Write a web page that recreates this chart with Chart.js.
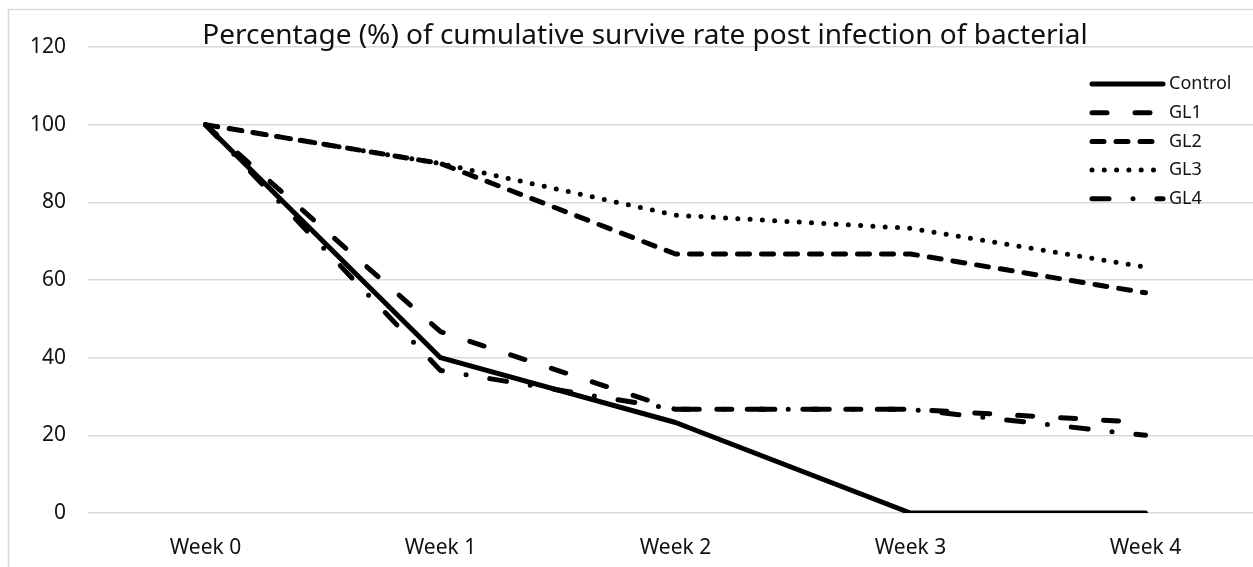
<!DOCTYPE html>
<html>
<head>
<meta charset="utf-8">
<script src="https://cdn.jsdelivr.net/npm/chart.js@4/dist/chart.umd.min.js"></script>
<style>
  html, body { margin: 0; padding: 0; background: #fff; overflow: hidden; }
  #chart { display: block; }
</style>
</head>
<body>
<canvas id="chart" width="1270" height="567"></canvas>
<script>
// dados
const weeks = ['Week 0', 'Week 1', 'Week 2', 'Week 3', 'Week 4'];
const control = [100, 40, 23.3, 0, 0];
const gl1 = [100, 46.7, 26.7, 26.7, 23.3];
const gl2 = [100, 90, 66.7, 66.7, 56.7];
const gl3 = [100, 90, 76.7, 73.3, 63.3];
const gl4 = [100, 36.7, 26.7, 26.7, 20];
const yTicks = [0, 20, 40, 60, 80, 100, 120];
const chartTitle = 'Percentage (%) of cumulative survive rate post infection of bacterial';

const fontFamily = "'Noto Sans', 'Open Sans', sans-serif";
const canvas = document.getElementById('chart');

function lineSet(label, data, dash, cap, width) {
  return {
    label: label,
    data: data,
    borderColor: '#000',
    backgroundColor: '#000',
    borderWidth: width,
    borderDash: dash,
    borderCapStyle: cap,
    borderJoinStyle: 'round',
    pointRadius: 0,
    pointHoverRadius: 0,
    fill: false,
    tension: 0
  };
}

// moldura cinza em volta do grafico
const framePlugin = {
  id: 'frame',
  beforeDraw(chart) {
    const ctx = chart.ctx;
    ctx.save();
    ctx.strokeStyle = '#d9d9d9';
    ctx.lineWidth = 1.5;
    ctx.strokeRect(8.5, 9.5, 3000, 3000);
    ctx.restore();
  }
};

// titulo e legenda desenhados por cima da area do grafico
const overlayPlugin = {
  id: 'overlay',
  afterDraw(chart) {
    const ctx = chart.ctx;
    ctx.save();
    ctx.fillStyle = '#111';
    ctx.font = '28px ' + fontFamily;
    ctx.textAlign = 'center';
    ctx.textBaseline = 'alphabetic';
    ctx.fillText(chartTitle, 645, 44);

    const legendX = 1092, legendW = 71, legendTop = 84, legendStep = 28.7;
    ctx.font = '18px ' + fontFamily;
    ctx.textAlign = 'left';
    ctx.textBaseline = 'middle';
    chart.data.datasets.forEach((ds, i) => {
      const y = legendTop + i * legendStep;
      ctx.save();
      ctx.strokeStyle = ds.borderColor;
      ctx.lineWidth = ds.borderWidth;
      ctx.lineCap = ds.borderCapStyle;
      ctx.setLineDash(ds.borderDash);
      ctx.beginPath();
      ctx.moveTo(legendX, y);
      ctx.lineTo(legendX + legendW, y);
      ctx.stroke();
      ctx.restore();
      ctx.fillText(ds.label, legendX + legendW + 6, y);
    });
    ctx.restore();
  }
};

new Chart(canvas, {
  type: 'line',
  data: {
    labels: weeks,
    datasets: [
      lineSet('Control', control, [], 'round', 5),
      lineSet('GL1', gl1, [15, 28], 'round', 5),
      lineSet('GL2', gl2, [12, 12], 'round', 5),
      lineSet('GL3', gl3, [0, 12.3], 'round', 5),
      lineSet('GL4', gl4, [17, 24, 0, 24], 'round', 5)
    ]
  },
  options: {
    responsive: false,
    animation: false,
    layout: { padding: { left: 0, right: 7, top: 47, bottom: 0 } },
    plugins: {
      legend: { display: false },
      title: { display: false },
      tooltip: { enabled: false }
    },
    scales: {
      x: {
        offset: true,
        grid: { display: false, drawTicks: false },
        border: { display: false },
        ticks: {
          color: '#111',
          font: { family: fontFamily, size: 21 },
          padding: 22,
          maxRotation: 0
        },
        afterFit(scale) { scale.height = 54; }
      },
      y: {
        min: 0,
        max: 120,
        afterBuildTicks(scale) { scale.ticks = yTicks.map(v => ({ value: v })); },
        grid: { color: '#d9d9d9', lineWidth: 1.5, drawTicks: false },
        border: { display: false },
        ticks: {
          color: '#111',
          font: { family: fontFamily, size: 21 },
          padding: 22
        },
        afterFit(scale) { scale.width = 88; }
      }
    }
  },
  plugins: [framePlugin, overlayPlugin]
});
</script>
</body>
</html>
